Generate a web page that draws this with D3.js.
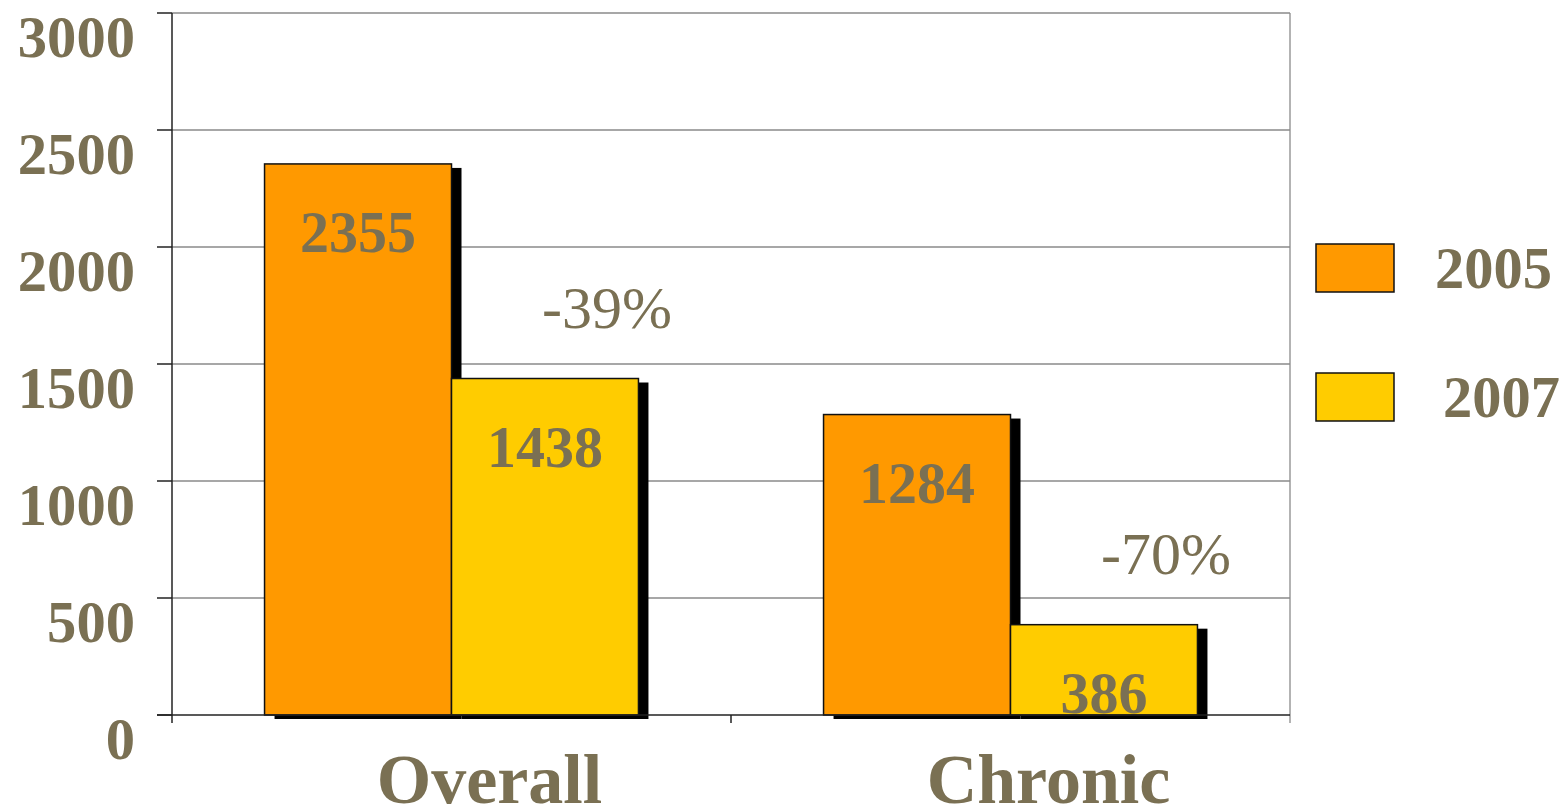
<!DOCTYPE html>
<html><head><meta charset="utf-8">
<script src="https://cdn.jsdelivr.net/npm/d3@7"></script>
<style>html,body{margin:0;padding:0;background:#fff;overflow:hidden}</style>
</head><body>
<svg id="c" width="1568" height="810"></svg>
<script>
const categories = ["Overall", "Chronic"];
const series = ["2005", "2007"];
const values2005 = [2355, 1284];
const values2007 = [1438, 386];
const yTicks = [0, 500, 1000, 1500, 2000, 2500, 3000];
const colors = ["#FF9900", "#FFCC00"];

(function () {
const textColor = "#7a7053";
const font = "'Liberation Serif', 'Times New Roman', serif";
const svg = d3.select("#c");
const pLeft = 172, pRight = 1290, pTop = 13, pBottom = 715;

const y = d3.scaleLinear().domain([0, 3000]).range([pBottom, pTop]);
const x0 = d3.scaleBand().domain(categories).range([pLeft, pRight]).padding(0);
const x1 = d3.scaleBand().domain(series).range([0, x0.bandwidth()]).paddingInner(0).paddingOuter(0.495);

const data = categories.map((c, i) => ({cat: c, vals: [
  {s: series[0], v: values2005[i]}, {s: series[1], v: values2007[i]}]}));

// gridlines
svg.append("g").selectAll("line").data(yTicks.filter(t => t > 0)).join("line")
  .attr("x1", pLeft).attr("x2", pRight).attr("y1", d => y(d)).attr("y2", d => y(d))
  .attr("stroke", "#8a8a8a").attr("stroke-width", 1.3);
// right border
svg.append("line").attr("x1", pRight).attr("x2", pRight).attr("y1", pTop).attr("y2", pBottom + 8)
  .attr("stroke", "#8a8a8a").attr("stroke-width", 1.3);

// shadows
const dx = 10, dy = 4;
const g = svg.append("g");
data.forEach(d => {
  d.vals.forEach((b, j) => {
    const bx = x0(d.cat) + x1(b.s);
    g.append("rect").attr("x", bx + dx).attr("y", y(b.v) + dy)
      .attr("width", x1.bandwidth()).attr("height", pBottom - y(b.v))
      .attr("fill", "#000");
  });
});
data.forEach(d => {
  d.vals.forEach((b, j) => {
    const bx = x0(d.cat) + x1(b.s);
    g.append("rect").attr("x", bx).attr("y", y(b.v))
      .attr("width", x1.bandwidth()).attr("height", pBottom - y(b.v))
      .attr("fill", colors[j]).attr("stroke", "#111").attr("stroke-width", 1.5);
  });
});

// axes lines
svg.append("line").attr("x1", pLeft).attr("x2", pLeft).attr("y1", pTop).attr("y2", pBottom + 8)
  .attr("stroke", "#222").attr("stroke-width", 1.5);
svg.append("line").attr("x1", pLeft - 15).attr("x2", pRight).attr("y1", pBottom).attr("y2", pBottom)
  .attr("stroke", "#222").attr("stroke-width", 1.5);
svg.append("g").selectAll("line").data(yTicks).join("line")
  .attr("x1", pLeft - 15).attr("x2", pLeft).attr("y1", d => y(d)).attr("y2", d => y(d))
  .attr("stroke", "#222").attr("stroke-width", 1.5);
svg.append("line").attr("x1", x0(categories[1])).attr("x2", x0(categories[1]))
  .attr("y1", pBottom).attr("y2", pBottom + 8).attr("stroke", "#222").attr("stroke-width", 1.5);

// y tick labels
svg.append("g").selectAll("text").data(yTicks).join("text")
  .attr("x", 135).attr("y", d => y(d) + 44)
  .attr("text-anchor", "end").attr("font-family", font).attr("font-weight", "bold")
  .attr("font-size", 60).attr("fill", textColor)
  .attr("textLength", d => String(d).length * 29.3).attr("lengthAdjust", "spacingAndGlyphs")
  .text(d => d);

// value labels
data.forEach(d => {
  d.vals.forEach(b => {
    const cx = x0(d.cat) + x1(b.s) + x1.bandwidth() / 2;
    svg.append("text").attr("x", cx).attr("y", y(b.v) + 88)
      .attr("text-anchor", "middle").attr("font-family", font).attr("font-weight", "bold")
      .attr("font-size", 60).attr("fill", textColor)
      .attr("textLength", String(b.v).length * 29).attr("lengthAdjust", "spacingAndGlyphs")
      .text(b.v);
  });
  // change annotation
  const a = d.vals[0].v, bb = d.vals[1].v;
  const pct = Math.round((bb - a) / a * 100);
  const cx2 = x0(d.cat) + x1(series[1]) + x1.bandwidth() / 2 + 62;
  svg.append("text").attr("x", cx2).attr("y", y(bb) - 51)
    .attr("text-anchor", "middle").attr("font-family", font)
    .attr("font-size", 60).attr("fill", textColor)
    .text(pct + "%");
});

// category labels
svg.append("g").selectAll("text").data(categories).join("text")
  .attr("x", d => x0(d) + x0.bandwidth() / 2 + 38).attr("y", 803)
  .attr("text-anchor", "middle").attr("font-family", font).attr("font-weight", "bold")
  .attr("font-size", 70).attr("fill", textColor)
  .text(d => d);

// legend
const legY = [244, 373];
const legTX = [1435, 1443];
series.forEach((s, i) => {
  svg.append("rect").attr("x", 1316).attr("y", legY[i]).attr("width", 78).attr("height", 48)
    .attr("fill", colors[i]).attr("stroke", "#111").attr("stroke-width", 1.5);
  svg.append("text").attr("x", legTX[i]).attr("y", legY[i] + 44)
    .attr("font-family", font).attr("font-weight", "bold").attr("font-size", 60)
    .attr("fill", textColor)
    .attr("textLength", 117).attr("lengthAdjust", "spacingAndGlyphs")
    .text(s);
});
})();
</script>
</body></html>
